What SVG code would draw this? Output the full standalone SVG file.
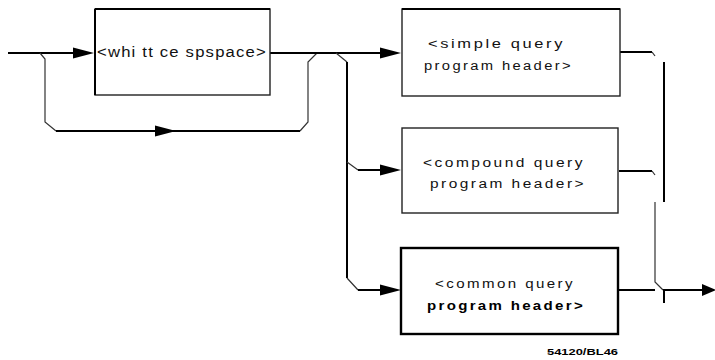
<svg xmlns="http://www.w3.org/2000/svg" width="715" height="360" viewBox="0 0 715 360">
<style>
.ln{fill:none;stroke:#000;stroke-width:2;stroke-linejoin:round}
.thin{fill:none;stroke:#333;stroke-width:1.2}
.box{fill:#fff;stroke:#222;stroke-width:1.4}
.boxb{fill:#fff;stroke:#000;stroke-width:2.4}
.ah{fill:#000}
.t{font-family:"Liberation Sans",Arial,sans-serif;font-size:12.5px;letter-spacing:2px;fill:#111}
.tw{font-family:"Liberation Sans",Arial,sans-serif;font-size:14px;letter-spacing:1px;fill:#111}
.tb{font-family:"Liberation Sans",Arial,sans-serif;font-size:13px;letter-spacing:2px;font-weight:bold;fill:#000}
.f{font-family:"Liberation Sans",Arial,sans-serif;font-size:9px;font-weight:bold;fill:#000}
</style>
<g id="connectors">
<path class="ln" d="M8 53 H80"/>
<polygon class="ah" points="73,47.5 94,53 73,58.5"/>
<path class="thin" d="M40 53 L45 59 V122 L56 131"/>
<path class="ln" d="M56 131 H300"/>
<polygon class="ah" points="155,125.5 176,131 155,136.5"/>
<path class="thin" d="M300 131 L308 122 V62 L317 53"/>
<path class="ln" d="M270 53 H388"/>
<polygon class="ah" points="380,47.5 401,53 380,58.5"/>
<path class="thin" d="M336 53 L347 62"/>
<path class="ln" d="M347 62 V278"/>
<path class="thin" d="M347 162 L358 170 M347 278 L358 290"/>
<path class="ln" d="M358 170 H388 M358 290 H388"/>
<polygon class="ah" points="380,164.5 401,170 380,175.5"/>
<polygon class="ah" points="380,284.5 401,290 380,295.5"/>
<path class="ln" d="M619 52 H652"/>
<path class="thin" d="M652 52 L655 56"/>
<path class="ln" d="M664 62 V202"/>
<path class="ln" d="M619 171 H652"/>
<path class="thin" d="M652 171 L655 175 M655 202 V282 L663 290"/>
<path class="ln" d="M619 290 H655 M663 290 H706 M664 290 V303"/>
<polygon class="ah" points="702,284 716,290 702,296"/>
</g>
<g id="n-whitespace">
<rect class="box" x="95" y="9" width="175" height="86"/>
<path class="ln" d="M95 9 H270 M95 9 V95"/>
<text class="tw" x="97" y="57" textLength="170" lengthAdjust="spacingAndGlyphs">&lt;whi tt ce spspace&gt;</text>
</g>
<g id="n-simple">
<rect class="box" x="402" y="9" width="218" height="87"/>
<path class="ln" d="M402 9 H620"/>
<text class="t" x="428" y="48" textLength="137" lengthAdjust="spacingAndGlyphs">&lt;simple query</text>
<text class="t" x="424" y="70" textLength="149" lengthAdjust="spacingAndGlyphs">program header&gt;</text>
</g>
<g id="n-compound">
<rect class="box" x="402" y="128" width="216" height="85"/>
<text class="t" x="423" y="167" textLength="162" lengthAdjust="spacingAndGlyphs">&lt;compound query</text>
<text class="t" x="430" y="188" textLength="156" lengthAdjust="spacingAndGlyphs">program header&gt;</text>
</g>
<g id="n-common">
<rect class="boxb" x="401" y="248" width="217" height="86"/>
<text class="t" x="435" y="288" textLength="140" lengthAdjust="spacingAndGlyphs">&lt;common query</text>
<text class="tb" x="427" y="310" textLength="158" lengthAdjust="spacingAndGlyphs">program header&gt;</text>
</g>
<text class="f" x="547" y="355" textLength="71" lengthAdjust="spacingAndGlyphs">54120/BL46</text>
</svg>
